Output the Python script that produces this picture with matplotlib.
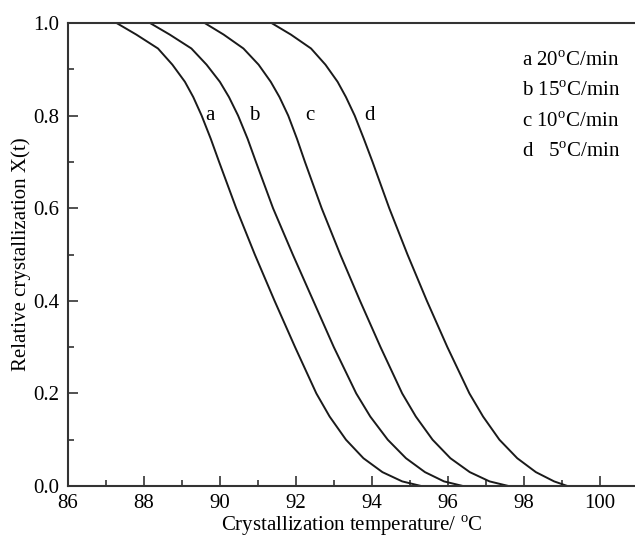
import matplotlib
matplotlib.use("Agg")
import matplotlib.pyplot as plt
from matplotlib.ticker import MultipleLocator

plt.rcParams['font.family'] = ['Liberation Serif', 'DejaVu Serif']
plt.rcParams['mathtext.fontset'] = 'custom'
plt.rcParams['mathtext.rm'] = 'Liberation Serif'

# relative crystallinity levels at which the curves were read
X_levels = [1.0, 0.975, 0.945, 0.91, 0.873, 0.84, 0.80, 0.75, 0.70, 0.60,
            0.50, 0.40, 0.30, 0.20, 0.15, 0.10, 0.06, 0.03, 0.01, 0.0]

# temperature of each curve at those levels
a_T = [87.28, 87.80, 88.37, 88.75, 89.08, 89.30, 89.52, 89.76, 89.98, 90.43,
       90.92, 91.44, 91.98, 92.54, 92.89, 93.32, 93.78, 94.28, 94.80, 95.30]
b_T = [88.16, 88.68, 89.25, 89.65, 90.00, 90.24, 90.48, 90.73, 90.95, 91.40,
       91.92, 92.46, 93.00, 93.59, 93.96, 94.42, 94.90, 95.40, 95.90, 96.40]
c_T = [89.60, 90.10, 90.62, 91.02, 91.34, 91.57, 91.80, 92.03, 92.24, 92.68,
       93.17, 93.69, 94.23, 94.80, 95.16, 95.60, 96.07, 96.58, 97.10, 97.60]
d_T = [91.36, 91.87, 92.40, 92.78, 93.10, 93.32, 93.55, 93.79, 94.02, 94.46,
       94.94, 95.45, 95.99, 96.57, 96.93, 97.36, 97.83, 98.32, 98.80, 99.15]

curve_names = ['a', 'b', 'c', 'd']
name_T = [89.74, 90.90, 92.37, 93.95]
legend_lines = [r'a 20$^{\mathrm{o}}$C/min', r'b 15$^{\mathrm{o}}$C/min',
                r'c 10$^{\mathrm{o}}$C/min', r'd   5$^{\mathrm{o}}$C/min']

fig = plt.figure(figsize=(6.35, 5.39), dpi=100)
ax = fig.add_axes([0.107, 0.0983, 0.893, 0.859])

for T in [a_T, b_T, c_T, d_T]:
    ax.plot(T, X_levels, color='#1a1a1a', lw=1.4, solid_joinstyle='round')

for name, t in zip(curve_names, name_T):
    ax.text(t, 0.8, name, fontsize=15, ha='center', va='center')

for i, s in enumerate(legend_lines):
    ax.text(0.80, 0.918 - i * 0.066, s, transform=ax.transAxes,
            fontsize=15, ha='left', va='center')

ax.set_xlim(86, 100.93)
ax.set_ylim(0, 1.0)
ax.xaxis.set_major_locator(MultipleLocator(2))
ax.xaxis.set_minor_locator(MultipleLocator(1))
ax.yaxis.set_major_locator(MultipleLocator(0.2))
ax.yaxis.set_minor_locator(MultipleLocator(0.1))
ax.yaxis.set_major_formatter(plt.FuncFormatter(lambda v, p: '%.1f' % v))

ax.tick_params(which='both', direction='in', top=False, right=False,
               labelsize=15, color='#333333', width=1.2)
ax.tick_params(which='major', length=7)
ax.tick_params(which='minor', length=4)
ax.tick_params(axis='x', pad=6)
ax.tick_params(axis='y', pad=6)

ax.spines['right'].set_visible(False)
for sp in ['left', 'bottom', 'top']:
    ax.spines[sp].set_linewidth(1.5)
    ax.spines[sp].set_color('#333333')

ax.set_xlabel(r'Crystallization temperature/ $^{\mathrm{o}}$C', fontsize=15, labelpad=0)
ax.set_ylabel('Relative crystallization X(t)', fontsize=15, labelpad=2)

fig.savefig('out.png', dpi=100)
